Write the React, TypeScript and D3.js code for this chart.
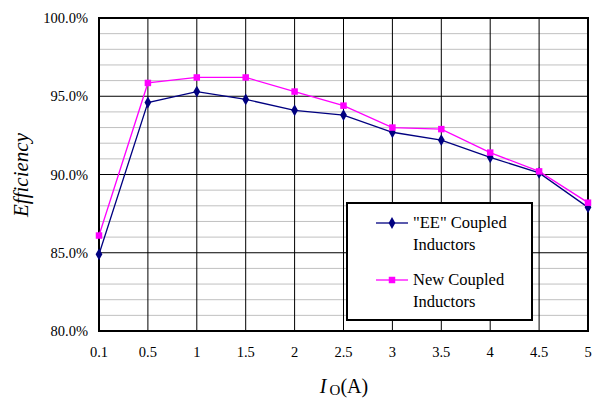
import React from "react";
import * as d3 from "d3";

const categories = ["0.1", "0.5", "1", "1.5", "2", "2.5", "3", "3.5", "4", "4.5", "5"];
const eeValues = [84.9, 94.6, 95.3, 94.8, 94.1, 93.8, 92.7, 92.2, 91.1, 90.1, 87.9];
const newValues = [86.1, 95.85, 96.2, 96.2, 95.3, 94.4, 93.0, 92.9, 91.4, 90.2, 88.2];
const majorTicks = [80, 85, 90, 95, 100];
const minorTicks = d3.range(80, 101, 1);
const seriesNames = ['"EE" Coupled|Inductors', "New Coupled|Inductors"];

const W = 592, H = 398;
const L = 99, R = 588, T = 18, B = 331;
const FONT = "Times New Roman, Liberation Serif, DejaVu Serif, serif";

export default function App() {
  const x = d3.scalePoint<string>().domain(categories).range([L, R]);
  const y = d3.scaleLinear().domain([80, 100]).range([B, T]);
  const line = d3.line<number>().x((_, i) => x(categories[i])!).y((v) => y(v));
  const diamond = d3.symbol().type(d3.symbolDiamond).size(40)()!;
  const square = d3.symbol().type(d3.symbolSquare).size(42)()!;

  return (
    <svg width={W} height={H} style={{ position: "absolute", left: 0, top: 0, background: "#fff", fontFamily: FONT }}>
      <rect width={W} height={H} fill="#fff" />
      {minorTicks.filter((t) => t % 5 !== 0).map((t) => (
        <line key={"m" + t} x1={L} x2={R} y1={y(t)} y2={y(t)} stroke="#c0c0c0" strokeWidth={1} />
      ))}
      {majorTicks.map((t) => (
        <line key={"M" + t} x1={L} x2={R} y1={y(t)} y2={y(t)} stroke="#000" strokeWidth={1} />
      ))}
      {categories.map((c) => (
        <line key={"v" + c} x1={x(c)} x2={x(c)} y1={T} y2={B} stroke="#000" strokeWidth={1} />
      ))}
      <rect x={L} y={T} width={R - L} height={B - T} fill="none" stroke="#000" strokeWidth={2} />
      {majorTicks.map((t) => (
        <text key={"yl" + t} x={88} y={y(t) + 5} textAnchor="end" style={{ fontFamily: FONT }} fontSize={14.5}>
          {t.toFixed(1) + "%"}
        </text>
      ))}
      {categories.map((c) => (
        <text key={"xl" + c} x={x(c)} y={357} textAnchor="middle" style={{ fontFamily: FONT }} fontSize={14.5}>
          {c}
        </text>
      ))}
      <path d={line(eeValues)!} fill="none" stroke="#000080" strokeWidth={1.3} />
      <path d={line(newValues)!} fill="none" stroke="#ff00ff" strokeWidth={1.3} />
      {eeValues.map((v, i) => (
        <path key={"ed" + i} d={diamond} transform={`translate(${x(categories[i])},${y(v)})`} fill="#000080" />
      ))}
      {newValues.map((v, i) => (
        <path key={"ns" + i} d={square} transform={`translate(${x(categories[i])},${y(v)})`} fill="#ff00ff" />
      ))}
      <text transform={`translate(28,175) rotate(-90)`} textAnchor="middle" style={{ fontFamily: FONT }} fontSize={21} fontStyle="italic">
        Efficiency
      </text>
      <text x={344} y={393} textAnchor="middle" style={{ fontFamily: FONT }} fontSize={20}>
        <tspan fontStyle="italic">I</tspan>
        <tspan fontSize={15} dx={3} dy={2}>O</tspan>
        <tspan dy={-2}>(A)</tspan>
      </text>
      <g>
        <rect x={347} y={203} width={185} height={117} fill="#fff" stroke="#000" strokeWidth={2} />
        {seriesNames.map((s, i) => {
          const ly = 223 + i * 57;
          const parts = s.split("|");
          return (
            <g key={"lg" + i}>
              <line x1={376} x2={408} y1={ly} y2={ly} stroke={i === 0 ? "#000080" : "#ff00ff"} strokeWidth={1.3} />
              <path d={i === 0 ? diamond : square} transform={`translate(392,${ly})`} fill={i === 0 ? "#000080" : "#ff00ff"} />
              <text x={413} y={ly + 5} style={{ fontFamily: FONT }} fontSize={16.5}>{parts[0]}</text>
              <text x={413} y={ly + 27} style={{ fontFamily: FONT }} fontSize={16.5}>{parts[1]}</text>
            </g>
          );
        })}
      </g>
    </svg>
  );
}
